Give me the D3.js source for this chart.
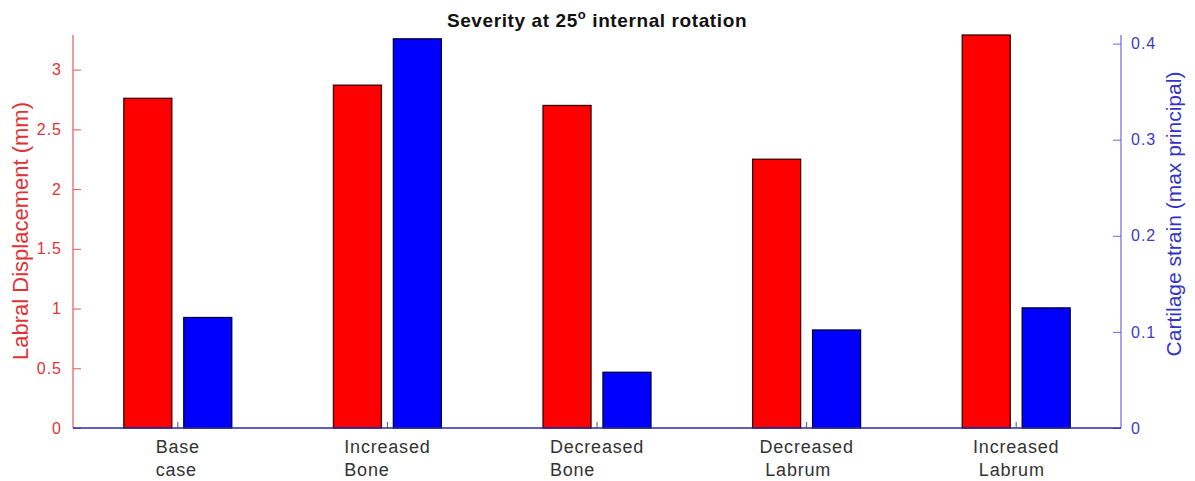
<!DOCTYPE html>
<html>
<head>
<meta charset="utf-8">
<script src="https://cdn.jsdelivr.net/npm/d3@7"></script>
<style>
  body { margin: 0; background: #fff; }
  svg { display: block; font-family: "Liberation Sans", Arial, sans-serif; }
  .cat text { white-space: pre; }
</style>
</head>
<body>
<svg id="chart" width="1195" height="481"></svg>
<script>
// Categories (two-line tick labels) and the two series
const categories = [
  ["Base", "case"],
  ["Increased", "Bone"],
  ["Decreased", "Bone"],
  ["Decreased", " Labrum"],
  ["Increased", " Labrum"]
];
const labralDisplacement = [2.76, 2.87, 2.70, 2.25, 3.29];   // mm, left axis
const cartilageStrain   = [0.115, 0.405, 0.058, 0.102, 0.125]; // right axis
const leftTicks  = [0, 0.5, 1, 1.5, 2, 2.5, 3];
const rightTicks = [0, 0.1, 0.2, 0.3, 0.4];

const svg = d3.select("#chart");
const plotLeft = 73, plotRight = 1121, plotTop = 35, plotBottom = 428;

// x positions run 1..N with half a slot of padding on both ends
const x = d3.scaleLinear().domain([0.5, categories.length + 0.5]).range([plotLeft, plotRight]);
const yL = d3.scaleLinear().domain([0, 3.29]).range([plotBottom, plotTop]);
const yR = d3.scaleLinear().domain([0, 0.409]).range([plotBottom, plotTop]);

const slot = x(2) - x(1);
const barW = slot * 0.229;
const offset = slot * 0.143;

// Bars: labral displacement (red) and cartilage strain (blue)
svg.append("g").selectAll("rect")
  .data(labralDisplacement)
  .join("rect")
  .attr("x", (d, i) => x(i + 1) - offset - barW / 2)
  .attr("y", d => yL(d))
  .attr("width", barW)
  .attr("height", d => plotBottom - yL(d))
  .attr("fill", "#ff0000")
  .attr("stroke", "#3a0000")
  .attr("stroke-width", 1.3);

svg.append("g").selectAll("rect")
  .data(cartilageStrain)
  .join("rect")
  .attr("x", (d, i) => x(i + 1) + offset - barW / 2)
  .attr("y", d => yR(d))
  .attr("width", barW)
  .attr("height", d => plotBottom - yR(d))
  .attr("fill", "#0000ff")
  .attr("stroke", "#00003a")
  .attr("stroke-width", 1.3);

// Left axis (red)
const axL = svg.append("g")
  .attr("transform", `translate(${plotLeft},0)`)
  .call(d3.axisLeft(yL).tickValues(leftTicks).tickSize(-8).tickPadding(11).tickFormat(d3.format("")));
axL.select(".domain").attr("stroke", "#e05a5a").attr("stroke-width", 1.2).attr("d", `M0,${plotBottom}V${plotTop}`);
axL.selectAll(".tick line").attr("stroke", "#e05a5a");
axL.selectAll(".tick text").attr("fill", "#e03434").attr("font-size", 16).attr("letter-spacing", 1);

// Right axis (blue)
const axR = svg.append("g")
  .attr("transform", `translate(${plotRight},0)`)
  .call(d3.axisRight(yR).tickValues(rightTicks).tickSize(-8).tickPadding(10).tickFormat(d => d === 0 ? "0" : d3.format(".1f")(d)));
axR.select(".domain").attr("stroke", "#6a6ad8").attr("stroke-width", 1.2).attr("d", `M0,${plotBottom}V${plotTop}`);
axR.selectAll(".tick line").attr("stroke", "#6a6ad8");
axR.selectAll(".tick text").attr("fill", "#3a3ac8").attr("font-size", 16).attr("letter-spacing", 1);

// Baseline
svg.append("line")
  .attr("x1", plotLeft).attr("x2", plotRight)
  .attr("y1", plotBottom).attr("y2", plotBottom)
  .attr("stroke", "#2a2aa0").attr("stroke-width", 1.3);

// Category ticks and two-line labels
const cat = svg.append("g").attr("class", "cat");
categories.forEach((lines, i) => {
  const cx = x(i + 1);
  cat.append("line")
    .attr("x1", cx).attr("x2", cx)
    .attr("y1", plotBottom).attr("y2", plotBottom - 6)
    .attr("stroke", "#555").attr("stroke-width", 1);
  const t = cat.append("text")
    .attr("font-size", 18)
    .attr("letter-spacing", 0.8)
    .attr("fill", "#333");
  const first = t.append("tspan").attr("x", 0).attr("y", 453).text(lines[0]);
  const w = first.node().getComputedTextLength();
  first.attr("x", cx - w / 2);
  t.append("tspan").attr("x", cx - w / 2).attr("y", 476).text(lines[1]);
});

// Title with degree mark as raised "o"
const title = svg.append("text")
  .attr("x", 597).attr("y", 27)
  .attr("text-anchor", "middle")
  .attr("font-size", 19).attr("font-weight", "bold").attr("fill", "#111")
  .attr("letter-spacing", 0.6);
title.append("tspan").text("Severity at 25");
title.append("tspan").attr("font-size", 13).attr("dy", -8).text("o");
title.append("tspan").attr("dy", 8).text(" internal rotation");

// Axis titles
svg.append("text")
  .attr("transform", `translate(28,231) rotate(-90)`)
  .attr("text-anchor", "middle")
  .attr("font-size", 22).attr("fill", "#e03434")
  .text("Labral Displacement (mm)");

svg.append("text")
  .attr("transform", `translate(1181,214) rotate(-90)`)
  .attr("text-anchor", "middle")
  .attr("font-size", 21).attr("fill", "#3434c8")
  .text("Cartilage strain (max principal)");
</script>
</body>
</html>
